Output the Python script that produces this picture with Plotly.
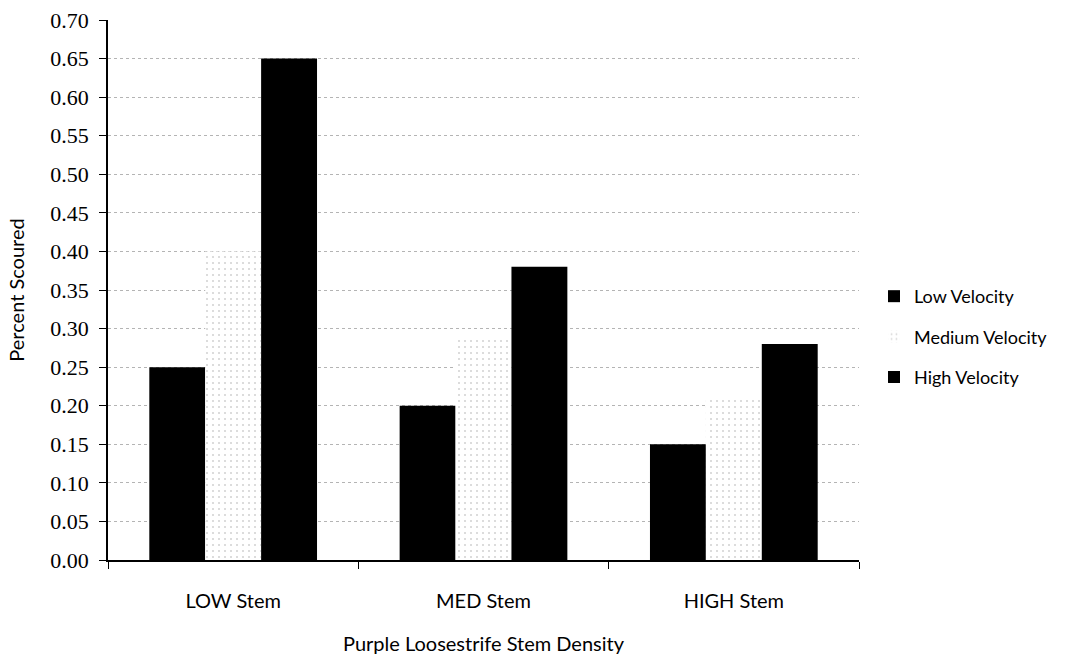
import plotly.graph_objects as go

# Scour data by stem density and flow velocity
categories = ["LOW Stem", "MED Stem", "HIGH Stem"]
low_velocity = [0.25, 0.20, 0.15]
medium_velocity = [0.40, 0.29, 0.21]
high_velocity = [0.65, 0.38, 0.28]
y_ticks = [0.00, 0.05, 0.10, 0.15, 0.20, 0.25, 0.30, 0.35, 0.40, 0.45, 0.50, 0.55, 0.60, 0.65, 0.70]

sans = "Lato, 'Open Sans', sans-serif"
serif = "'Liberation Serif', 'DejaVu Serif', serif"

fig = go.Figure()
fig.add_trace(go.Bar(
    name="Low Velocity", x=categories, y=low_velocity, legendgroup="low",
    marker=dict(color="black", line=dict(width=0)),
))
fig.add_trace(go.Bar(
    name="Medium Velocity", x=categories, y=medium_velocity, legendgroup="med",
    marker=dict(
        color="white",
        line=dict(width=0),
        pattern=dict(shape=".", fgcolor="#a8a8a8", bgcolor="white",
                     size=6, solidity=0.1, fillmode="overlay"),
    ),
))
fig.add_trace(go.Bar(
    name="High Velocity", x=categories, y=high_velocity, legendgroup="high",
    marker=dict(color="black", line=dict(width=0)),
))

fig.update_layout(
    width=1066, height=655,
    margin=dict(l=108, r=207, t=20, b=95, autoexpand=False),
    paper_bgcolor="white", plot_bgcolor="white",
    barmode="group", bargap=0.33, bargroupgap=0,
    showlegend=True,
    legend=dict(
        x=1.02, y=0.413, xanchor="left", yanchor="middle",
        font=dict(family=sans, size=18, color="black"),
        itemsizing="constant", tracegroupgap=14,
        bgcolor="rgba(0,0,0,0)",
    ),
    font=dict(family=sans, color="black"),
)

fig.update_xaxes(
    type="category", automargin=False,
    showline=True, linecolor="black", linewidth=1.5,
    ticks="outside", tickson="boundaries", ticklen=7, tickcolor="black",
    tickfont=dict(family=sans, size=20, color="black"),
    ticklabelstandoff=22,
    showgrid=False,
    title=dict(text="Purple Loosestrife Stem Density",
               font=dict(family=sans, size=20, color="black"), standoff=26),
)
fig.update_yaxes(
    range=[0, 0.70], automargin=False,
    tickvals=y_ticks, ticktext=[f"{v:.2f}" for v in y_ticks],
    showline=True, linecolor="black", linewidth=1.5,
    ticks="outside", ticklen=7, tickcolor="black",
    tickfont=dict(family=serif, size=22, color="black"),
    ticklabelstandoff=6,
    showgrid=True, gridcolor="#b4b4b4", gridwidth=1, griddash="dot",
    zeroline=False,
    title=dict(text="Percent Scoured",
               font=dict(family=sans, size=20, color="black"), standoff=20),
)

fig.write_html("out.html")
